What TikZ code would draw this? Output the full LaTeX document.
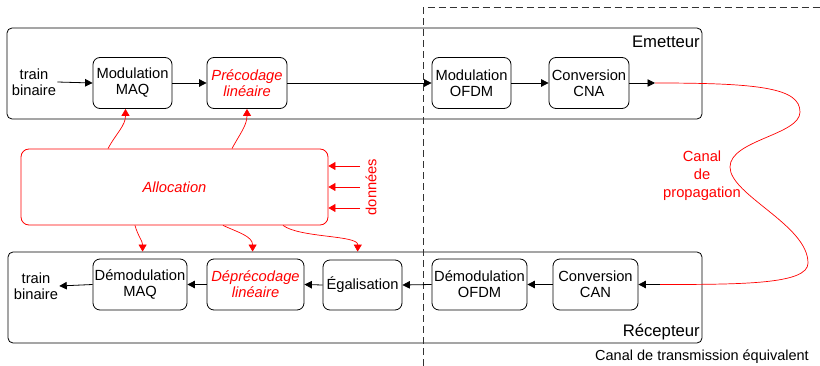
\documentclass[tikz,border=0pt]{standalone}
\usepackage{fontspec}
\setmainfont{Liberation Sans}
\usetikzlibrary{arrows.meta}
\begin{document}
\begin{tikzpicture}[x=1pt,y=-1pt,
  txt/.style={font=\fontsize{14.7}{16}\selectfont, align=center, inner sep=1pt},
  blk/.style={txt, draw, rounded corners=7pt, line width=0.8pt, minimum height=51pt},
  redblk/.style={blk, text=red, font=\fontsize{14.7}{16}\selectfont\itshape},
  frame/.style={draw, rounded corners=5pt, line width=0.8pt, inner sep=0pt},
  arr/.style={line width=0.8pt, -{Triangle[length=7.5pt,width=7.5pt]}},
  rarr/.style={red, line width=0.7pt, -{Triangle[length=7pt,width=8pt]}},
  lbl/.style={font=\fontsize{16.7}{18}\selectfont, inner sep=0pt},
]
\useasboundingbox (0,0) rectangle (820,366);

% frames
\node[frame, minimum width=695pt, minimum height=91pt] (tx) at (354.5,73.5) {};
\node[frame, minimum width=694pt, minimum height=91pt] (rx) at (355,297.5) {};
\node[lbl, anchor=base east] (emlbl) at (700,48) {Emetteur};
\node[lbl, anchor=base east] (reclbl) at (700,337) {Récepteur};

% dashed equivalent channel
\draw[dashed, dash pattern=on 7pt off 4pt, line width=0.7pt, black!80] (423,366) -- (423,7.5) -- (820,7.5);
\node[txt, anchor=base east, font=\fontsize{14.5}{16}\selectfont] (eqlbl) at (810,360) {Canal de transmission équivalent};

% top row
\node[txt] (trainA) at (34,82) {train\\binaire};
\node[blk, minimum width=79pt] (maq) at (132.5,83) {Modulation\\MAQ};
\node[redblk, minimum width=80pt] (prec) at (247,83) {Précodage\\linéaire};
\node[blk, minimum width=79pt] (ofdm) at (471.5,83) {Modulation\\OFDM};
\node[blk, minimum width=80pt] (cna) at (589,83) {Conversion\\CNA};
\coordinate (cnaout) at (655,83);

\draw[arr] (trainA.east) -- (maq.west);
\draw[arr] (maq.east) -- (prec.west);
\draw[arr] (prec.east) -- (ofdm.west);
\draw[arr] (ofdm.east) -- (cna.west);
\draw[arr] (cna.east) -- (cnaout);

% bottom row
\node[txt] (trainB) at (36,286) {train\\binaire};
\node[blk, minimum width=94pt] (dmaq) at (140,284.5) {Démodulation\\MAQ};
\node[redblk, minimum width=97pt] (dprec) at (255.5,284.5) {Déprécodage\\linéaire};
\node[blk, minimum width=79pt, minimum height=50pt] (egal) at (362.5,285) {Égalisation};
\node[blk, minimum width=95pt] (dofdm) at (479.5,284.5) {Démodulation\\OFDM};
\node[blk, minimum width=85pt] (can) at (595.5,284.5) {Conversion\\CAN};
\coordinate (canin) at (660,284.5);

\draw[arr] (canin) -- (can.east);
\draw[arr] (can.west) -- (dofdm.east);
\draw[arr] (dofdm.west) -- (egal.east);
\draw[arr] (egal.west) -- (dprec.east);
\draw[arr] (dprec.west) -- (dmaq.east);
\draw[arr] (dmaq.west) -- (trainB.east);

% propagation channel
\draw[red, line width=0.7pt] (cnaout) .. controls (760,83) and (800,88) .. (800,112)
  .. controls (800,135) and (730,140) .. (730,167)
  .. controls (730,195) and (808,225) .. (808,263)
  .. controls (808,284) and (745,284.5) .. (canin);
\node[txt, text=red, font=\fontsize{14.7}{18}\selectfont] (canal) at (702,176) {Canal\\de\\propagation};

% allocation
\node[draw=red, line width=0.8pt, rounded corners=8pt, minimum width=307pt, minimum height=76pt,
      text=red, font=\fontsize{14.7}{16}\selectfont\itshape] (alloc) at (174.5,187) {Allocation};

\coordinate (d1) at (360,166);
\coordinate (d2) at (360,187);
\coordinate (d3) at (360,208);
\draw[rarr] (d1) -- (d1 -| alloc.east);
\draw[rarr] (d2) -- (d2 -| alloc.east);
\draw[rarr] (d3) -- (d3 -| alloc.east);
\node[txt, text=red, rotate=90] (donnees) at (371,187) {données};

\draw[rarr] ([xshift=-66.5pt]alloc.north) to[out=62,in=-90] ([xshift=-7pt]maq.south);
\draw[rarr] ([xshift=57.5pt]alloc.north) to[out=62,in=-90] (prec.south);

\draw[rarr] ([xshift=-39.5pt]alloc.south) to[out=-75,in=90] ([xshift=135pt]rx.north west);
\draw[rarr] ([xshift=48.5pt]alloc.south) to[out=-25,in=90] ([xshift=245pt]rx.north west);
\draw[rarr] ([xshift=108.5pt]alloc.south) .. controls (300,238) and (358,235) .. ([xshift=350pt]rx.north west);
\end{tikzpicture}
\end{document}
